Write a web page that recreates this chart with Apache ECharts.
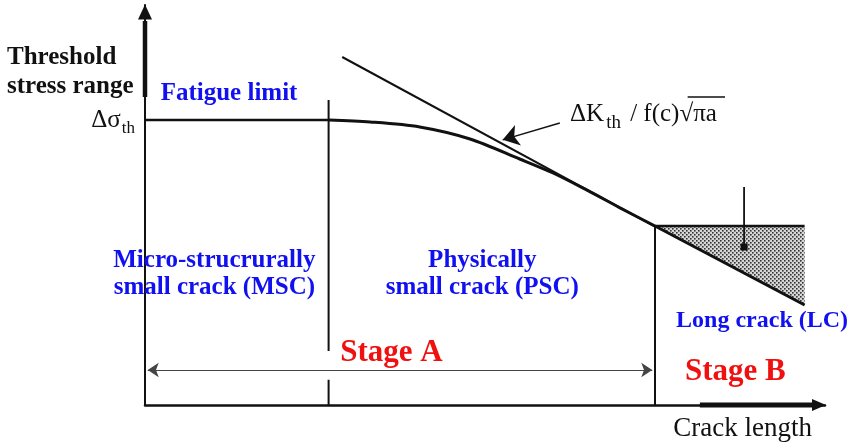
<!DOCTYPE html>
<html>
<head>
<meta charset="utf-8">
<title>Threshold stress range vs crack length</title>
<script src="https://cdn.jsdelivr.net/npm/echarts@6/dist/echarts.min.js"></script>
<style>
  html, body { margin: 0; padding: 0; background: #ffffff; }
  #chart { width: 852px; height: 445px; }
</style>
</head>
<body>
<div id="chart"></div>
<script>
// Kitagawa–Takahashi type diagram in schematic units:
// crack length 0–100 (x), threshold stress range 0–100 (y).

const fatigueLimit = 71.25;           // Δσth level
const mscLimit = 27;                  // MSC → PSC transition length
const pscLimit = 75;                  // PSC → LC transition length

const fatigueLine = [[0, 71.25], [27, 71.25]];
const pscCurve = [[27, 71.25], [33.1, 70.75], [40.4, 69.5], [47.8, 66.5], [55.1, 61.5],
                  [60, 58], [65, 53.7], [69.85, 49.3], [75, 44.75]];
const kthLine = [[29, 87], [75, 44.6]];
const longCrackLine = [[75, 44.75], [97, 25]];
const lcTop = [[75, 44.75], [97, 44.75]];
const lcRegion = [[75, 44.75], [97, 44.75], [97, 25]];
const mscWall = [[27, 76.25], [27, 13.5], [27, '-'], [27, 6.3], [27, 0]];
const pscWall = [[75, 44.75], [75, 0]];
const lcMarker = [[88.1, 54.5], [88.1, 39.5]];
const stageSpan = [[0.4, 8.75], [74.6, 8.75]];
const pointer = [[61, 70.5], [52.6, 66.3]];
const radicalBar = [[79.8, 77], [85.3, 77]];
const yAxisHeavy = [[0, 77], [0, 96]];
const xAxisHeavy = [[81.6, 0], [98.2, 0]];

const yAxisTitle = ['Threshold', 'stress range'];
const xAxisTitle = 'Crack length';

const INK = '#111111';
const BLUE = '#1010f0';
const RED = '#f01010';
const SERIF = '"Liberation Serif", "Times New Roman", serif';

function stipple() {
  const c = document.createElement('canvas');
  c.width = 4; c.height = 4;
  const g = c.getContext('2d');
  g.fillStyle = '#d6d6d6';
  g.fillRect(0, 0, 4, 4);
  g.fillStyle = '#333333';
  g.fillRect(0, 0, 1.6, 1.6);
  g.fillRect(2, 2, 1.6, 1.6);
  return c;
}

function segment(data, width, extra) {
  return Object.assign({
    type: 'line',
    data: data,
    showSymbol: false,
    symbol: 'none',
    clip: false,
    silent: true,
    animation: false,
    lineStyle: { color: INK, width: width }
  }, extra || {});
}

function note(text, x, y, style) {
  return {
    coord: [x, y],
    symbol: 'rect',
    symbolSize: 0,
    itemStyle: { color: 'transparent' },
    label: Object.assign({
      show: true,
      position: 'inside',
      formatter: text,
      verticalAlign: 'middle'
    }, style)
  };
}

const blueBold = { color: BLUE, fontFamily: SERIF, fontWeight: 'bold', fontSize: 25, lineHeight: 27 };
const redBold = { color: RED, fontFamily: SERIF, fontWeight: 'bold', fontSize: 31 };

const chart = echarts.init(document.getElementById('chart'), null, { renderer: 'canvas' });

chart.setOption({
  animation: false,
  backgroundColor: '#ffffff',
  grid: { left: 145, top: 5, right: 27, bottom: 40, containLabel: false },
  xAxis: {
    type: 'value', min: 0, max: 100,
    axisLine: { show: true, onZero: false, symbol: ['none', 'triangle'], symbolSize: [12, 14],
                symbolOffset: [0, -6], lineStyle: { color: INK, width: 2.5 } },
    axisTick: { show: false }, axisLabel: { show: false }, splitLine: { show: false },
    name: xAxisTitle, nameLocation: 'end', nameGap: -13, nameMoveOverlap: false,
    nameTextStyle: { color: INK, fontFamily: SERIF, fontSize: 27, align: 'right',
                     verticalAlign: 'top', padding: [10, 0, 0, 0] }
  },
  yAxis: {
    type: 'value', min: 0, max: 100, interval: fatigueLimit,
    axisLine: { show: true, onZero: false, symbol: ['none', 'triangle'], symbolSize: [14, 15],
                symbolOffset: [0, -7], lineStyle: { color: INK, width: 2 } },
    axisTick: { show: false }, splitLine: { show: false },
    axisLabel: {
      margin: 10,
      formatter: v => (v === fatigueLimit ? '{a|Δσ}{b|th}' : ''),
      rich: {
        a: { fontFamily: SERIF, fontSize: 25, color: INK, lineHeight: 24, verticalAlign: 'middle' },
        b: { fontFamily: SERIF, fontSize: 17, color: INK, lineHeight: 16, verticalAlign: 'middle',
             padding: [17, 0, 0, 1] }
      }
    },
    name: yAxisTitle.map(t => '{t|' + t + '}').join('\n'),
    nameLocation: 'end', nameGap: -38, nameMoveOverlap: false,
    nameTextStyle: {
      align: 'right', verticalAlign: 'top', padding: [0, 8, 0, 0],
      rich: { t: { width: 130, align: 'left', fontFamily: SERIF, fontWeight: 'bold',
                   fontSize: 25, lineHeight: 29, color: INK } }
    }
  },
  series: [
    {
      type: 'custom',
      silent: true,
      clip: false,
      data: [lcRegion[0]],
      renderItem: (params, api) => ({
        type: 'polygon',
        shape: { points: lcRegion.map(p => api.coord(p)) },
        style: { fill: { image: stipple(), repeat: 'repeat' } }
      })
    },
    segment(yAxisHeavy, 4.5),
    segment(xAxisHeavy, 5),
    segment(fatigueLine, 2.6, {
      markPoint: {
        silent: true,
        animation: false,
        data: [
          note('Fatigue limit', 2.3, 77.8, Object.assign({ align: 'left' }, blueBold)),
          note('Micro-strucrurally\nsmall crack (MSC)', 10.2, 32.7, Object.assign({ align: 'center' }, blueBold)),
          note('Physically\nsmall crack (PSC)', 49.6, 32.7, Object.assign({ align: 'center' }, blueBold)),
          note('Long crack (LC)', 78.1, 21.05, Object.assign({ align: 'left' }, blueBold, { fontSize: 24 })),
          note('Stage A', 28.7, 13, Object.assign({ align: 'left' }, redBold)),
          note('Stage B', 79.4, 8.25, Object.assign({ align: 'left' }, redBold)),
          note('{a|ΔK}{b|th}{a| / f(c)√πa}', 62.5, 72.6, {
            align: 'left', color: INK,
            rich: {
              a: { fontFamily: SERIF, fontSize: 25, color: INK, lineHeight: 25, verticalAlign: 'middle' },
              b: { fontFamily: SERIF, fontSize: 19, color: INK, lineHeight: 18, verticalAlign: 'middle',
                   padding: [16, 3, 0, 2] }
            }
          })
        ]
      }
    }),
    segment(pscCurve, 3, { smooth: 0.3 }),
    segment(kthLine, 2),
    segment(longCrackLine, 3),
    segment(lcTop, 2.5),
    segment(mscWall, 2),
    segment(pscWall, 2),
    segment(radicalBar, 1.6),
    segment(lcMarker.map((p, i) => ({
      value: p,
      symbol: i === lcMarker.length - 1 ? 'rect' : 'none',
      symbolSize: 7
    })), 1.8, { showSymbol: true, itemStyle: { color: INK } }),
    {
      type: 'lines',
      coordinateSystem: 'cartesian2d',
      silent: true,
      animation: false,
      symbol: ['arrow', 'arrow'],
      symbolSize: 11,
      lineStyle: { color: '#444444', width: 1.2, opacity: 1 },
      data: [{ coords: stageSpan }]
    },
    {
      type: 'lines',
      coordinateSystem: 'cartesian2d',
      silent: true,
      animation: false,
      symbol: ['none', 'arrow'],
      symbolSize: 16,
      lineStyle: { color: INK, width: 1.4, opacity: 1 },
      data: [{ coords: pointer }]
    }
  ]
});
</script>
</body>
</html>
